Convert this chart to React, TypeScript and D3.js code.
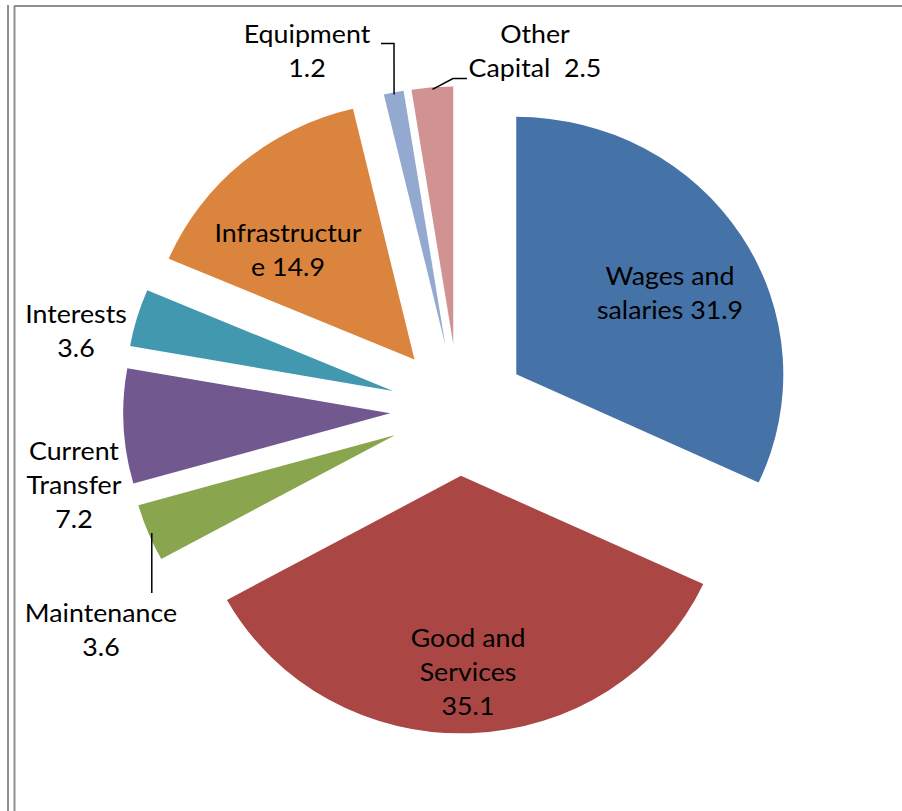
import { useMemo } from "react";
import * as d3 from "d3";

const categories = [
  "Wages and salaries",
  "Good and Services",
  "Maintenance",
  "Current Transfer",
  "Interests",
  "Infrastructure",
  "Equipment",
  "Other Capital",
];
const values = [31.9, 35.1, 3.6, 7.2, 3.6, 14.9, 1.2, 2.5];
// label text per slice, {v} is replaced by the value
const labelLines = [
  ["Wages and", "salaries {v}"],
  ["Good and", "Services", "{v}"],
  ["Maintenance", "{v}"],
  ["Current", "Transfer", "{v}"],
  ["Interests", "{v}"],
  ["Infrastructur", "e {v}"],
  ["Equipment", "{v}"],
  ["Other", "Capital  {v}"],
];

const colors = ["#4572A7", "#AA4643", "#89A54E", "#71588F", "#4198AF", "#DB843D", "#93A9CF", "#D19392"];

// label layout: centre x, first baseline y
const labelPos: [number, number][] = [
  [670, 285],
  [468, 647],
  [101, 622],
  [74, 460],
  [76, 323],
  [288, 242],
  [307, 43],
  [535, 43],
];

const W = 902;
const H = 811;
const CX = 458.6;
const CY = 409.9;
const R = 257.5;
const EXPLODE = 66;
const SX = 1.037; // the original is slightly stretched horizontally
const LINE_H = 34;
const FONT = "Lato, 'Open Sans', sans-serif";

type Slice = d3.PieArcDatum<number>;

export default function App() {
  const slices = useMemo(
    () =>
      d3
        .pie<number>()
        .sort(null)
        .value((d) => d)(values),
    []
  );
  const arcGen = d3.arc<Slice>().innerRadius(0).outerRadius(R);

  const dir = (s: Slice) => {
    const a = (s.startAngle + s.endAngle) / 2;
    return [Math.sin(a), -Math.cos(a)];
  };
  // point on the exploded outer edge, in page coordinates
  const edgePoint = (s: Slice, inset: number) => {
    const [dx, dy] = dir(s);
    const r = R + EXPLODE - inset;
    return [CX + dx * r * SX, CY + dy * r];
  };

  const eq = edgePoint(slices[6], 2);
  const oc = edgePoint(slices[7], 2);
  const mt = edgePoint(slices[2], -0.5);

  return (
    <svg
      width={W}
      height={H}
      style={{ position: "absolute", left: 0, top: 0, display: "block", background: "#fff" }}
    >
      {/* frame */}
      <line x1={8} y1={5} x2={8} y2={H} stroke="#8f8f8f" strokeWidth={2} />
      <line x1={14.5} y1={6} x2={14.5} y2={H} stroke="#8f8f8f" strokeWidth={2} />
      <line x1={14} y1={6} x2={W} y2={6} stroke="#8f8f8f" strokeWidth={2} />

      <g transform={`translate(${CX},${CY}) scale(${SX},1)`}>
        {slices.map((s, i) => {
          const [dx, dy] = dir(s);
          return (
            <path
              key={categories[i]}
              d={arcGen(s) || ""}
              fill={colors[i]}
              transform={`translate(${dx * EXPLODE},${dy * EXPLODE})`}
            />
          );
        })}
      </g>

      {/* leader lines */}
      <g stroke="#000" strokeWidth={1.5} fill="none">
        <polyline points={`381,43.5 394,43.5 ${eq[0]},${eq[1]}`} />
        <polyline points={`467,78.5 453,78.5 ${oc[0]},${oc[1]}`} />
        <polyline points={`${mt[0] + 4},${mt[1]} ${mt[0] + 4},593`} />
      </g>

      {labelLines.map((lines, i) => (
        <g key={i} transform={`translate(${labelPos[i][0]},${labelPos[i][1]}) scale(${SX},1)`}>
          <text
            textAnchor="middle"
            fontFamily={FONT}
            fontSize={25.8}
            fill="#000"
            style={{ whiteSpace: "pre" }}
          >
            {lines.map((l, j) => (
              <tspan key={j} x={0} y={j * LINE_H}>
                {l.replace("{v}", values[i].toFixed(1))}
              </tspan>
            ))}
          </text>
        </g>
      ))}
    </svg>
  );
}
